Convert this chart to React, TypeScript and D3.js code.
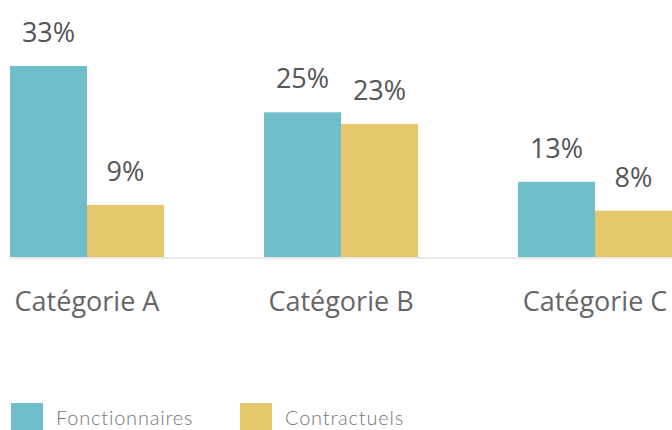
import { useRef, useEffect } from "react";
import * as d3 from "d3";

// Chart data
const categories = ["Catégorie A", "Catégorie B", "Catégorie C"];
const series = ["Fonctionnaires", "Contractuels"];
const fonctionnaires = [33, 25, 13];
const contractuels = [9, 23, 8];
const colors = ["#70bdcb", "#e5c86c"];

const width = 672;
const height = 430;

const App = () => {
  const svgRef = useRef<SVGSVGElement | null>(null);

  useEffect(() => {
    if (!svgRef.current) return;
    const svg = d3.select(svgRef.current);
    svg.selectAll("*").remove();

    const baseline = 257;
    const values = [fonctionnaires, contractuels];

    const x0 = d3
      .scaleBand()
      .domain(categories)
      .range([10, width])
      .paddingInner(100 / 254)
      .paddingOuter(0);

    const x1 = d3
      .scaleBand()
      .domain(series)
      .range([0, x0.bandwidth()]);

    const y = d3.scaleLinear().domain([0, 33]).range([baseline, baseline - 191]);

    // baseline
    svg
      .append("line")
      .attr("x1", 10)
      .attr("x2", width)
      .attr("y1", baseline + 1)
      .attr("y2", baseline + 1)
      .attr("stroke", "#e8e8e8")
      .attr("stroke-width", 2);

    const groups = svg
      .selectAll("g.group")
      .data(categories)
      .enter()
      .append("g")
      .attr("class", "group")
      .attr("transform", (d) => `translate(${x0(d)},0)`);

    series.forEach((s, si) => {
      groups
        .append("rect")
        .attr("x", x1(s) ?? 0)
        .attr("y", (_d, i) => y(values[si][i]))
        .attr("width", x1.bandwidth())
        .attr("height", (_d, i) => baseline - y(values[si][i]))
        .attr("fill", colors[si]);

      groups
        .append("text")
        .attr("x", (x1(s) ?? 0) + x1.bandwidth() / 2)
        .attr("y", (_d, i) => y(values[si][i]) - 24)
        .attr("text-anchor", "middle")
        .style("font-family", "'Open Sans', sans-serif")
        .style("font-size", "27px")
        .style("fill", "#555")
        .text((_d, i) => `${values[si][i]}%`);
    });

    // category labels
    groups
      .append("text")
      .attr("x", x0.bandwidth() / 2)
      .attr("y", 311)
      .attr("text-anchor", "middle")
      .style("font-family", "'Open Sans', sans-serif")
      .style("font-size", "27px")
      .style("fill", "#666")
      .text((d) => d);

    // legend
    const legendX = [11, 240];
    const legend = svg
      .selectAll("g.legend")
      .data(series)
      .enter()
      .append("g")
      .attr("class", "legend")
      .attr("transform", (_d, i) => `translate(${legendX[i]},403)`);

    legend
      .append("rect")
      .attr("width", 32)
      .attr("height", 32)
      .attr("fill", (_d, i) => colors[i]);

    legend
      .append("text")
      .attr("x", 45)
      .attr("y", 22)
      .style("font-family", "Lato, sans-serif")
      .style("font-weight", 300)
      .style("font-size", "20px")
      .style("letter-spacing", "0.8px")
      .style("fill", "#777")
      .text((d) => d);
  }, []);

  return (
    <svg
      ref={svgRef}
      width={width}
      height={height}
      style={{ position: "absolute", left: 0, top: 0, background: "#fff" }}
    ></svg>
  );
};

export default App;
